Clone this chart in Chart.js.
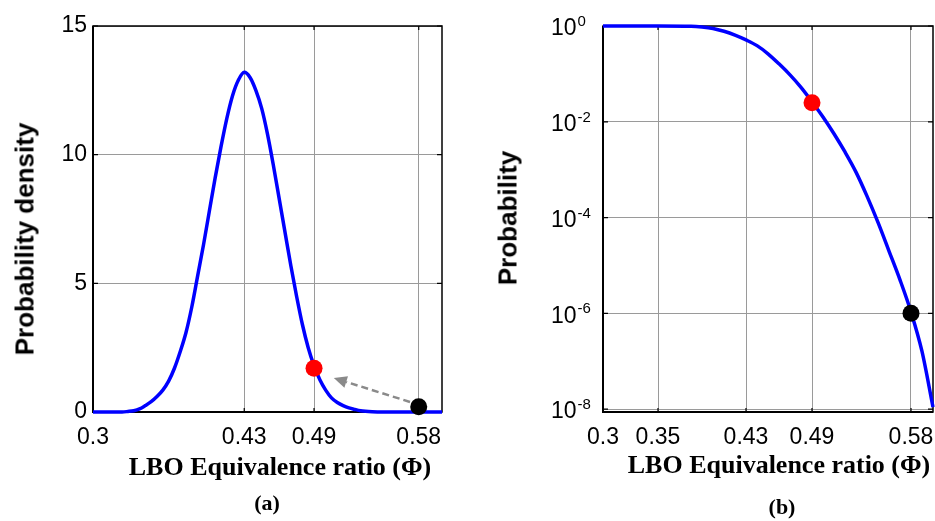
<!DOCTYPE html>
<html>
<head>
<meta charset="utf-8">
<script src="https://cdn.jsdelivr.net/npm/chart.js@4"></script>
<style>
  body { margin: 0; background: #fff; }
  #wrap { position: relative; width: 935px; height: 521px; overflow: hidden; }
  canvas { position: absolute; top: 0; }
  .lbl { position: absolute; white-space: nowrap; color: #000; transform: translate(-50%, -50%); }
  .ytitle { font: bold 26px "Liberation Sans", Arial, sans-serif; transform: translate(-50%, -50%) rotate(-90deg); }
  .xtitle { font: bold 26px "Liberation Serif", "Times New Roman", serif; }
  .panel { font: bold 22px "Liberation Serif", "Times New Roman", serif; }
</style>
</head>
<body>
<div id="wrap">
  <canvas id="chartA" width="467" height="521" style="left:0"></canvas>
  <canvas id="chartB" width="465" height="521" style="left:470px"></canvas>
  <div class="lbl ytitle" style="left:25px; top:239px">Probability density</div>
  <div class="lbl xtitle" style="left:280px; top:467px">LBO Equivalence ratio (Φ)</div>
  <div class="lbl panel" style="left:267px; top:503px">(a)</div>
  <div class="lbl ytitle" style="left:508px; top:218px">Probability</div>
  <div class="lbl xtitle" style="left:779px; top:465px">LBO Equivalence ratio (Φ)</div>
  <div class="lbl panel" style="left:782px; top:507px">(b)</div>
</div>
<script>
// ---------- data ----------
const phiA = [0.30, 0.325, 0.33, 0.335, 0.34, 0.345, 0.35, 0.355, 0.36, 0.365, 0.37, 0.375, 0.38, 0.385, 0.39, 0.395, 0.40, 0.405, 0.41, 0.415, 0.42, 0.425, 0.43,
              0.435, 0.44, 0.445, 0.45, 0.455, 0.46, 0.465, 0.47, 0.475, 0.48, 0.485, 0.49, 0.495, 0.50, 0.505, 0.51, 0.515, 0.52, 0.525, 0.53, 0.54, 0.55, 0.60];
const densityA = [0, 0, 0.02, 0.05, 0.12, 0.25, 0.4, 0.6, 0.85, 1.2, 1.7, 2.35, 3.1, 4.1, 5.3, 6.5, 7.8, 9.1, 10.3, 11.4, 12.3, 12.9, 13.2,
                  13.0, 12.5, 11.8, 10.8, 9.6, 8.3, 7.0, 5.7, 4.5, 3.4, 2.5, 1.8, 1.25, 0.85, 0.55, 0.37, 0.25, 0.16, 0.1, 0.05, 0.01, 0, 0];

const phiB = [0.30, 0.35, 0.38, 0.39, 0.40, 0.41, 0.42, 0.43, 0.44, 0.45, 0.46, 0.47, 0.48, 0.49, 0.50, 0.51, 0.52, 0.53, 0.54, 0.55, 0.56, 0.57, 0.58, 0.59, 0.60];
const probB = [1, 1, 0.989, 0.955, 0.89, 0.776, 0.646, 0.513, 0.389, 0.263, 0.162, 0.0955, 0.0525, 0.0263, 0.0126, 0.00562, 0.00234,
               8.9e-4, 2.8e-4, 7.9e-5, 2e-5, 5e-6, 1.07e-6, 1.6e-7, 1.1e-8];

const markPhi = [0.49, 0.58];
const markDensity = [1.7, 0.2];
const markProb = [0.025, 1e-6];
const markColors = ['#ff0000', '#000000'];

const arrowFrom = [0.5725, 0.39];
const arrowTo = [0.507, 1.32];

const ticksPhiA = [0.3, 0.43, 0.49, 0.58];
const ticksPhiB = [0.3, 0.35, 0.43, 0.49, 0.58];
const ticksDensity = [0, 5, 10, 15];
const ticksProbExp = [0, -2, -4, -6, -8];

const tickFont = { family: '"Liberation Sans", Arial, sans-serif', size: 23 };

// ---------- plugins ----------
const frame = {
  id: 'frame',
  beforeDatasetsDraw(chart) {
    const { ctx, chartArea: a, scales } = chart;
    ctx.save();
    ctx.strokeStyle = '#000';
    ctx.lineWidth = 1.5;
    ctx.strokeRect(a.left, a.top, a.right - a.left, a.bottom - a.top);
    ctx.lineWidth = 2;
    ctx.beginPath();
    ctx.moveTo(a.left, a.top);
    ctx.lineTo(a.left, a.bottom);
    ctx.lineTo(a.right, a.bottom);
    ctx.stroke();
    // small inward ticks like matlab
    ctx.lineWidth = 1.2;
    ctx.beginPath();
    scales.x.ticks.forEach(t => {
      const px = scales.x.getPixelForValue(t.value);
      ctx.moveTo(px, a.bottom); ctx.lineTo(px, a.bottom - 4);
      ctx.moveTo(px, a.top); ctx.lineTo(px, a.top + 4);
    });
    scales.y.ticks.forEach(t => {
      const py = scales.y.getPixelForValue(t.value);
      ctx.moveTo(a.left, py); ctx.lineTo(a.left + 5, py);
      ctx.moveTo(a.right, py); ctx.lineTo(a.right - 5, py);
    });
    ctx.stroke();
    ctx.restore();
  }
};

const arrow = {
  id: 'arrow',
  afterDatasetsDraw(chart) {
    const { ctx, scales: { x, y } } = chart;
    const x0 = x.getPixelForValue(arrowFrom[0]), y0 = y.getPixelForValue(arrowFrom[1]);
    const x1 = x.getPixelForValue(arrowTo[0]), y1 = y.getPixelForValue(arrowTo[1]);
    const ang = Math.atan2(y1 - y0, x1 - x0);
    const len = 13, half = 6;
    const bx = x1 - len * Math.cos(ang), by = y1 - len * Math.sin(ang);
    ctx.save();
    ctx.strokeStyle = '#8a8a8a';
    ctx.fillStyle = '#8a8a8a';
    ctx.lineWidth = 2.5;
    ctx.setLineDash([7, 4]);
    ctx.beginPath();
    ctx.moveTo(x0, y0);
    ctx.lineTo(bx, by);
    ctx.stroke();
    ctx.setLineDash([]);
    ctx.beginPath();
    ctx.moveTo(x1, y1);
    ctx.lineTo(bx + half * Math.sin(ang), by - half * Math.cos(ang));
    ctx.lineTo(bx - half * Math.sin(ang), by + half * Math.cos(ang));
    ctx.closePath();
    ctx.fill();
    ctx.restore();
  }
};

const powerLabels = {
  id: 'powerLabels',
  afterDraw(chart) {
    const { ctx, scales: { y } } = chart;
    ctx.save();
    ctx.fillStyle = '#000';
    ticksProbExp.forEach(e => {
      const py = y.getPixelForValue(Math.pow(10, e));
      ctx.font = '23px "Liberation Sans", Arial, sans-serif';
      ctx.textAlign = 'left';
      ctx.textBaseline = 'middle';
      ctx.fillText('10', 81, py + 3);
      const w = ctx.measureText('10').width;
      ctx.font = '15px "Liberation Sans", Arial, sans-serif';
      ctx.fillText(String(e), 81 + w + 1, py - 4);
    });
    ctx.restore();
  }
};

// ---------- helpers ----------
function points(xs, ys) {
  return xs.map((v, i) => ({ x: v, y: ys[i] }));
}

function dotSets(ys) {
  return markPhi.map((v, i) => ({
    data: [{ x: v, y: ys[i] }],
    showLine: false,
    pointRadius: 8.5,
    pointBackgroundColor: markColors[i],
    pointBorderWidth: 0,
    order: 0,
    clip: false
  }));
}

function xAxis(tickList) {
  return {
    type: 'linear',
    min: 0.3,
    max: 0.6,
    afterBuildTicks: s => { s.ticks = tickList.map(v => ({ value: v })); },
    afterFit: s => { s.height = 109; s.paddingLeft = 0; s.paddingRight = 0; },
    ticks: { font: tickFont, color: '#000', padding: 12, maxRotation: 0, autoSkip: false, callback: v => String(v) },
    grid: { color: '#9a9a9a', lineWidth: 1, drawTicks: false },
    border: { display: false }
  };
}

const common = {
  responsive: false,
  animation: false,
  devicePixelRatio: 1,
  plugins: { legend: { display: false }, tooltip: { enabled: false } }
};

function curveSet(xs, ys) {
  return {
    data: points(xs, ys),
    borderColor: '#0000ff',
    borderWidth: 3.5,
    pointRadius: 0,
    cubicInterpolationMode: 'monotone',
    order: 1,
    clip: false
  };
}

// ===== (a) probability density =====
new Chart(document.getElementById('chartA'), {
  type: 'line',
  data: { datasets: [...dotSets(markDensity), curveSet(phiA, densityA)] },
  options: {
    ...common,
    layout: { autoPadding: false, padding: { left: 0, top: 26, right: 25, bottom: 0 } },
    scales: {
      x: xAxis(ticksPhiA),
      y: {
        min: 0,
        max: 15,
        afterBuildTicks: s => { s.ticks = ticksDensity.map(v => ({ value: v })); },
        afterFit: s => { s.width = 93; },
        ticks: { font: tickFont, color: '#000', padding: 6 },
        grid: { color: '#9a9a9a', lineWidth: 1, drawTicks: false },
        border: { display: false }
      }
    }
  },
  plugins: [frame, arrow]
});

// ===== (b) exceedance probability, log scale =====
new Chart(document.getElementById('chartB'), {
  type: 'line',
  data: { datasets: [...dotSets(markProb), curveSet(phiB, probB)] },
  options: {
    ...common,
    layout: { autoPadding: false, padding: { left: 0, top: 26, right: 2, bottom: 0 } },
    scales: {
      x: xAxis(ticksPhiB),
      y: {
        type: 'logarithmic',
        min: Math.pow(10, -8.06),
        max: 1,
        afterBuildTicks: s => { s.ticks = ticksProbExp.map(e => ({ value: Math.pow(10, e) })); },
        afterFit: s => { s.width = 133; },
        ticks: { display: false },
        grid: { color: '#9a9a9a', lineWidth: 1, drawTicks: false },
        border: { display: false }
      }
    }
  },
  plugins: [frame, powerLabels]
});
</script>
</body>
</html>
